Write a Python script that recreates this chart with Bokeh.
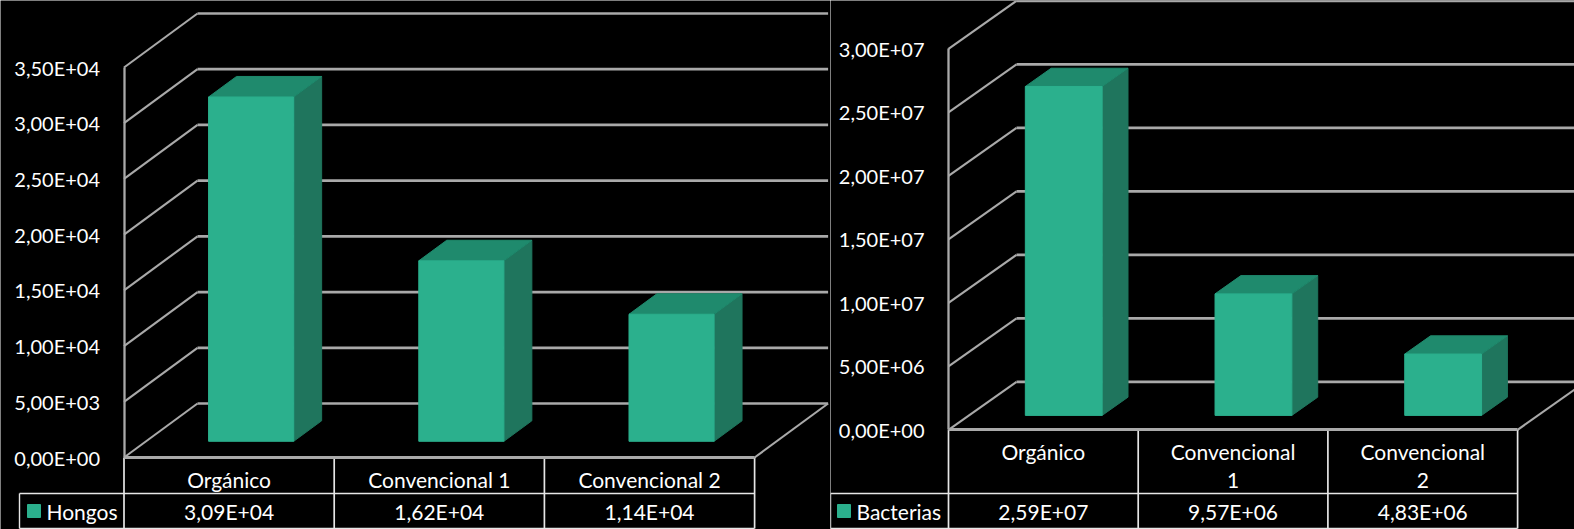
from bokeh.core.properties import value
from bokeh.embed import file_html
from bokeh.layouts import row
from bokeh.models import FixedTicker, LinearAxis, Range1d
from bokeh.plotting import figure
from bokeh.resources import INLINE

categories_hongos = ["Orgánico", "Convencional 1", "Convencional 2"]
values_hongos = [3.09e4, 1.62e4, 1.14e4]
labels_hongos = ["3,09E+04", "1,62E+04", "1,14E+04"]
ticks_hongos = [0, 5e3, 1e4, 1.5e4, 2e4, 2.5e4, 3e4, 3.5e4]
tick_labels_hongos = ["0,00E+00", "5,00E+03", "1,00E+04", "1,50E+04",
                      "2,00E+04", "2,50E+04", "3,00E+04", "3,50E+04"]

categories_bacterias = ["Orgánico", "Convencional\n1", "Convencional\n2"]
values_bacterias = [2.59e7, 9.57e6, 4.83e6]
labels_bacterias = ["2,59E+07", "9,57E+06", "4,83E+06"]
ticks_bacterias = [0, 5e6, 1e7, 1.5e7, 2e7, 2.5e7, 3e7]
tick_labels_bacterias = ["0,00E+00", "5,00E+06", "1,00E+07", "1,50E+07",
                         "2,00E+07", "2,50E+07", "3,00E+07"]

FONT = "Lato"
TICK_PX = "20px"
TABLE_PX = "21px"
GRID = "#a9a9a9"
FRONT, TOP, SIDE = "#2bb08d", "#1f8a6d", "#1f755d"
BAR_WIDTH = 0.405
DEPTH_NEAR, DEPTH_FAR = 0.3, 0.68
HEIGHT = 529


def chart(width, axis_px, cat_px, floor_px, value_px, depth_dx, depth_dy, legend_px,
          series, categories, values, labels, ticks, tick_labels, swatch_px, name_px):
    """Draws one 3D-look column chart with its data table, in value / category units."""
    px_x = lambda px: (px - axis_px) / cat_px
    px_y = lambda px: (floor_px - px) * value_px
    dx = depth_dx / cat_px            # full floor depth, category units
    dy = depth_dy * value_px          # full floor depth, value units

    p = figure(width=width, height=HEIGHT, output_backend="svg", toolbar_location=None,
               x_range=Range1d(px_x(0), px_x(width)),
               y_range=Range1d(px_y(HEIGHT), px_y(0)),
               x_axis_type=None, y_axis_type=None,
               min_border=0, min_border_left=0, min_border_right=0,
               min_border_top=0, min_border_bottom=0,
               background_fill_color="black", border_fill_color="black",
               outline_line_color=None)
    p.grid.visible = False

    n = len(categories)
    top = ticks[-1]

    # back wall lines and the slanted side wall lines
    p.multi_line([[dx, n + dx] for _ in ticks], [[t + dy, t + dy] for t in ticks],
                 line_color=GRID, line_width=2.7)
    p.multi_line([[0, dx] for _ in ticks], [[t, t + dy] for t in ticks],
                 line_color=GRID, line_width=2.1)
    p.line([n, n + dx], [0, dy], line_color=GRID, line_width=2.1)

    # columns: side face, top face, front face
    for i, v in enumerate(values):
        x0 = i + 0.5 - BAR_WIDTH / 2 + DEPTH_NEAR * dx
        x1 = x0 + BAR_WIDTH
        y0 = DEPTH_NEAR * dy
        y1 = v + DEPTH_NEAR * dy
        sx = (DEPTH_FAR - DEPTH_NEAR) * dx
        sy = (DEPTH_FAR - DEPTH_NEAR) * dy
        p.patch([x1, x1 + sx, x1 + sx, x1], [y0, y0 + sy, y1 + sy, y1], color=SIDE)
        p.patch([x0, x0 + sx, x1 + sx, x1], [y1, y1 + sy, y1 + sy, y1], color=TOP)
        p.patch([x0, x1, x1, x0], [y0, y0, y1, y1], color=FRONT)

    # data table under the floor
    row_top = px_y(493)
    row_bottom = px_y(528)
    left = px_x(legend_px)
    white = "#e6e6e6"
    p.multi_line([[i, i] for i in range(n + 1)], [[0, row_bottom]] * (n + 1),
                 line_color=white, line_width=1.7)
    p.multi_line([[left, left], [left, n], [left, n]],
                 [[row_top, row_bottom], [row_top, row_top], [row_bottom, row_bottom]],
                 line_color=white, line_width=1.4)

    middle = px_y(511)
    p.text([i + 0.5 for i in range(n)], [middle] * n, text=labels, text_color="white",
           text_font=value(FONT), text_font_size=TABLE_PX,
           text_align="center", text_baseline="middle")
    p.text([px_x(name_px)], [middle], text=[series], text_color="white",
           text_font=value(FONT), text_font_size=TABLE_PX,
           text_align="left", text_baseline="middle")
    p.quad(left=[px_x(swatch_px)], right=[px_x(swatch_px + 13)],
           bottom=[px_y(517)], top=[px_y(504)], color=FRONT)

    # value axis on the front left edge
    y_axis = LinearAxis(ticker=FixedTicker(ticks=ticks),
                        major_label_overrides=dict(zip(ticks, tick_labels)),
                        fixed_location=0, bounds=(0, top),
                        axis_line_color=GRID, axis_line_width=2.3,
                        major_tick_line_color=None, minor_tick_line_color=None,
                        major_label_standoff=18, major_label_text_color="white",
                        major_label_text_font=FONT, major_label_text_font_size=TICK_PX)
    p.add_layout(y_axis, "left")

    # category axis along the front floor edge
    centres = [i + 0.5 for i in range(n)]
    x_axis = LinearAxis(ticker=FixedTicker(ticks=centres),
                        major_label_overrides=dict(zip(centres, categories)),
                        fixed_location=0, bounds=(0, n),
                        axis_line_color=GRID, axis_line_width=3,
                        major_tick_line_color=None, minor_tick_line_color=None,
                        major_label_standoff=3, major_label_text_color="white",
                        major_label_text_line_height=1.12,
                        major_label_text_font=FONT, major_label_text_font_size=TABLE_PX)
    p.add_layout(x_axis, "below")
    return p


left_chart = chart(830, 123.5, 210.2, 457, 3.5e4 / 390, 73.5, 54, 19, "Hongos",
                   categories_hongos, values_hongos, labels_hongos,
                   ticks_hongos, tick_labels_hongos, 27, 46)
right_chart = chart(744, 118, 189.7, 429.3, 3e7 / 381, 68, 48, 0, "Bacterias",
                    categories_bacterias, values_bacterias, labels_bacterias,
                    ticks_bacterias, tick_labels_bacterias, 7, 26)

page = row(left_chart, right_chart)
open("out.html", "w").write(file_html(page, INLINE))
